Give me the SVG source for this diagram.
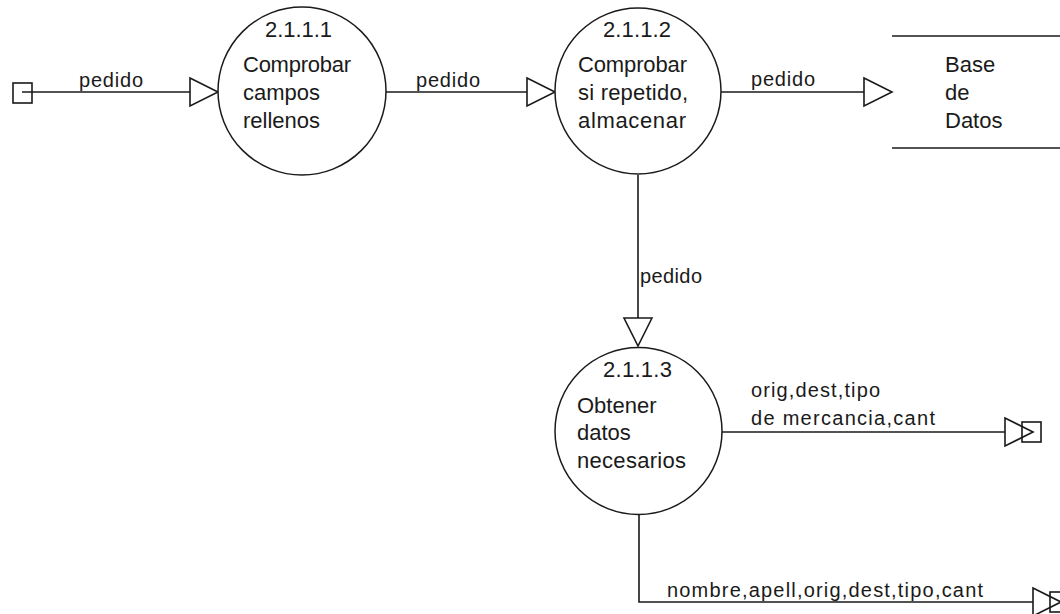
<svg xmlns="http://www.w3.org/2000/svg" width="1060" height="614" viewBox="0 0 1060 614">
  <style>
    .bg { fill: #ffffff; }
    .proc { fill: #ffffff; stroke: #1a1a1a; stroke-width: 1.5; }
    .flow { fill: none; stroke: #1a1a1a; stroke-width: 1.6; }
    .term { fill: none; stroke: #1a1a1a; stroke-width: 1.6; }
    .store { fill: none; stroke: #1a1a1a; stroke-width: 1.6; }
    .ntext { font-family: "Liberation Sans", Arial, sans-serif; font-size: 22px; fill: #1a1a1a; }
    .ftext { font-family: "Liberation Sans", Arial, sans-serif; font-size: 20px; fill: #1a1a1a; }
  </style>
  <defs>
    <!-- hollow triangular arrowhead used on every data flow -->
    <marker id="head" markerUnits="userSpaceOnUse" markerWidth="32" markerHeight="32" refX="28" refY="14" orient="auto" overflow="visible">
      <path d="M0,0 L28,14 L0,28 Z" fill="#ffffff" stroke="#1a1a1a" stroke-width="1.6"/>
    </marker>
  </defs>

  <rect class="bg" x="0" y="0" width="1060" height="614"/>

  <!-- data flows -->
  <g id="connectors">
    <line class="flow" x1="22" y1="92" x2="218" y2="92" marker-end="url(#head)"/>
    <line class="flow" x1="386" y1="92" x2="555" y2="92" marker-end="url(#head)"/>
    <line class="flow" x1="721" y1="92" x2="892" y2="92" marker-end="url(#head)"/>
    <line class="flow" x1="638" y1="175" x2="638" y2="346" marker-end="url(#head)"/>
    <line class="flow" x1="722" y1="432" x2="1033" y2="432" marker-end="url(#head)"/>
    <path class="flow" d="M639,515 V602 H1061" marker-end="url(#head)"/>

    <text class="ftext" x="79" y="87" textLength="64" lengthAdjust="spacing">pedido</text>
    <text class="ftext" x="416" y="87" textLength="64" lengthAdjust="spacing">pedido</text>
    <text class="ftext" x="751" y="86" textLength="64" lengthAdjust="spacing">pedido</text>
    <text class="ftext" x="640" y="283" textLength="62" lengthAdjust="spacing">pedido</text>
    <text class="ftext" x="751" y="397" textLength="129" lengthAdjust="spacing">orig,dest,tipo</text>
    <text class="ftext" x="751" y="425" textLength="184" lengthAdjust="spacing">de mercancia,cant</text>
    <text class="ftext" x="667" y="597" textLength="316" lengthAdjust="spacing">nombre,apell,orig,dest,tipo,cant</text>
  </g>

  <!-- external source -->
  <g id="source">
    <rect class="term" x="13" y="83" width="19" height="20"/>
  </g>

  <!-- process 2.1.1.1 -->
  <g id="p2111">
    <circle class="proc" cx="302" cy="91" r="84"/>
    <text class="ntext" x="265" y="37" textLength="67" lengthAdjust="spacing">2.1.1.1</text>
    <text class="ntext" x="243" y="72" textLength="108" lengthAdjust="spacing">Comprobar</text>
    <text class="ntext" x="243" y="100">campos</text>
    <text class="ntext" x="243" y="128">rellenos</text>
  </g>

  <!-- process 2.1.1.2 -->
  <g id="p2112">
    <circle class="proc" cx="638" cy="91" r="83"/>
    <text class="ntext" x="603" y="37" textLength="68" lengthAdjust="spacing">2.1.1.2</text>
    <text class="ntext" x="578" y="72" textLength="109" lengthAdjust="spacing">Comprobar</text>
    <text class="ntext" x="578" y="100" textLength="110" lengthAdjust="spacing">si repetido,</text>
    <text class="ntext" x="578" y="128" textLength="108" lengthAdjust="spacing">almacenar</text>
  </g>

  <!-- data store -->
  <g id="store">
    <line class="store" x1="892" y1="36" x2="1060" y2="36"/>
    <line class="store" x1="892" y1="148" x2="1060" y2="148"/>
    <text class="ntext" x="945" y="72">Base</text>
    <text class="ntext" x="945" y="100">de</text>
    <text class="ntext" x="945" y="128">Datos</text>
  </g>

  <!-- process 2.1.1.3 -->
  <g id="p2113">
    <circle class="proc" cx="638.5" cy="431" r="83.5"/>
    <text class="ntext" x="603" y="377" textLength="69" lengthAdjust="spacing">2.1.1.3</text>
    <text class="ntext" x="577" y="413">Obtener</text>
    <text class="ntext" x="577" y="440">datos</text>
    <text class="ntext" x="577" y="468" textLength="109" lengthAdjust="spacing">necesarios</text>
  </g>

  <!-- external sinks -->
  <g id="sink1">
    <rect class="term" x="1022" y="422" width="19" height="20"/>
  </g>
  <g id="sink2">
    <rect class="term" x="1050" y="592" width="19" height="20"/>
  </g>
</svg>
